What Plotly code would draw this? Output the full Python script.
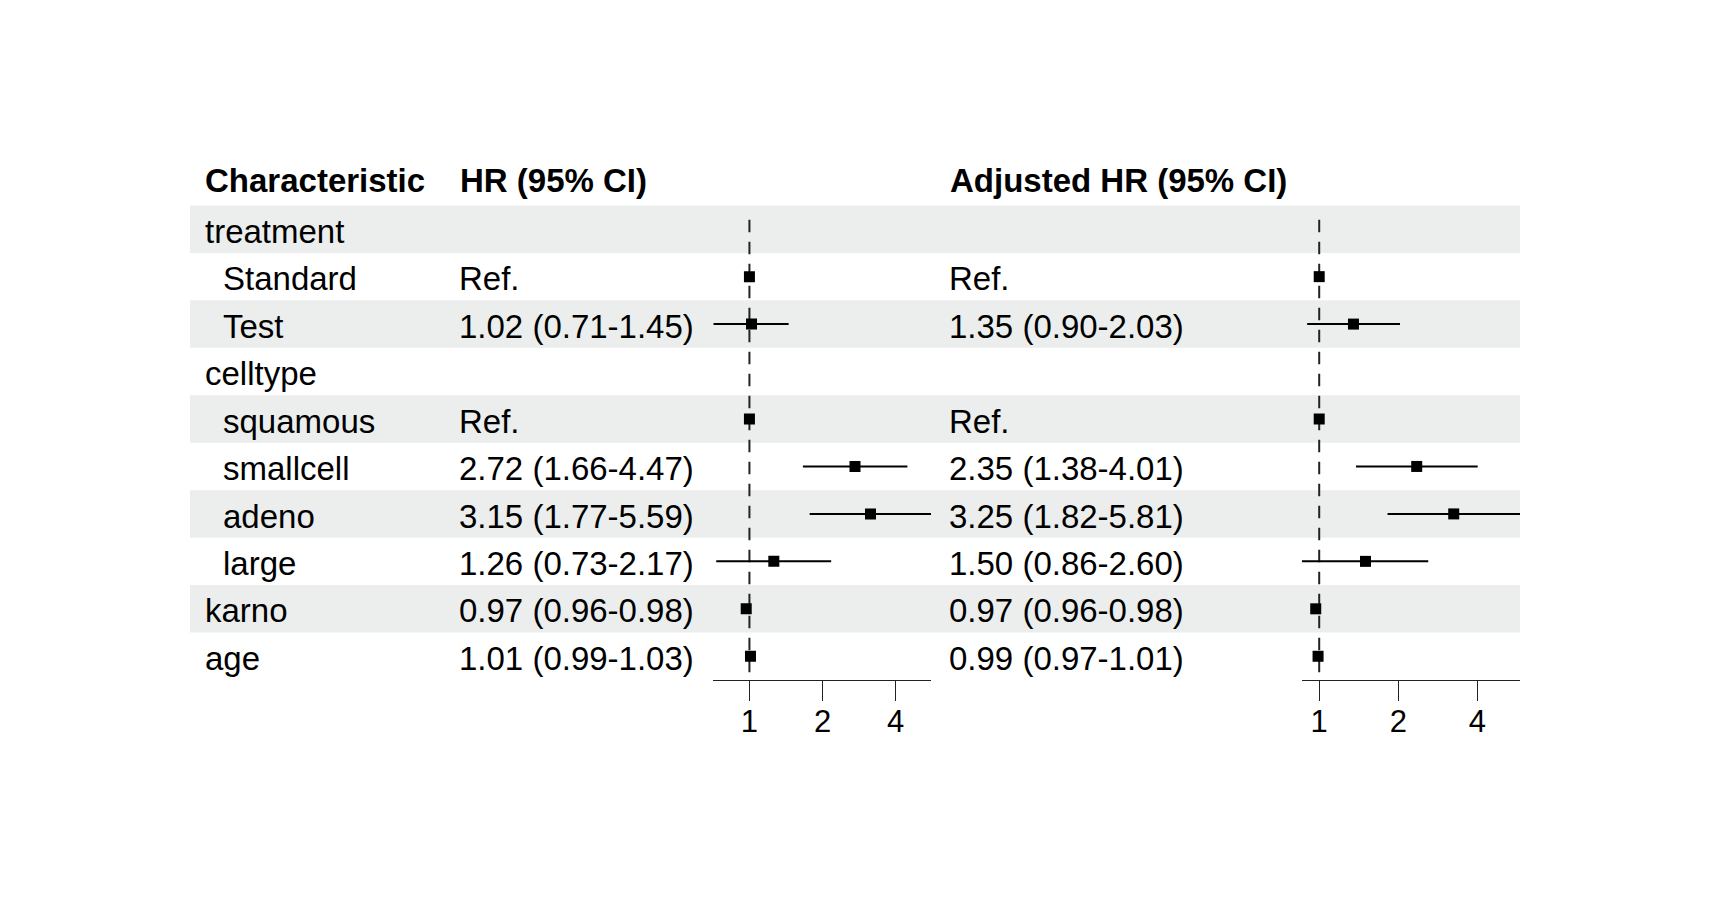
import math
import plotly.graph_objects as go

# table rows
labels = ["treatment", "Standard", "Test", "celltype", "squamous",
          "smallcell", "adeno", "large", "karno", "age"]
indent = [0, 1, 1, 0, 1, 1, 1, 1, 0, 0]

# unadjusted HR
hr = [None, 1, 1.02, None, 1, 2.72, 3.15, 1.26, 0.97, 1.01]
hr_lo = [None, None, 0.71, None, None, 1.66, 1.77, 0.73, 0.96, 0.99]
hr_hi = [None, None, 1.45, None, None, 4.47, 5.59, 2.17, 0.98, 1.03]
hr_text = ["", "Ref.", "1.02 (0.71-1.45)", "", "Ref.", "2.72 (1.66-4.47)",
           "3.15 (1.77-5.59)", "1.26 (0.73-2.17)", "0.97 (0.96-0.98)",
           "1.01 (0.99-1.03)"]

# adjusted HR
adj = [None, 1, 1.35, None, 1, 2.35, 3.25, 1.50, 0.97, 0.99]
adj_lo = [None, None, 0.90, None, None, 1.38, 1.82, 0.86, 0.96, 0.97]
adj_hi = [None, None, 2.03, None, None, 4.01, 5.81, 2.60, 0.98, 1.01]
adj_text = ["", "Ref.", "1.35 (0.90-2.03)", "", "Ref.", "2.35 (1.38-4.01)",
            "3.25 (1.82-5.81)", "1.50 (0.86-2.60)", "0.97 (0.96-0.98)",
            "0.99 (0.97-1.01)"]

headers = ["Characteristic", "HR (95% CI)", "Adjusted HR (95% CI)"]
ticks = [1, 2, 4]

# page body has an 8px margin, so the figure is a bit smaller than the window
OFF = 8
W, H = 1711 - 2 * OFF, 908 - 2 * OFF
FONT = "Liberation Sans, Arial, sans-serif"
BAND = "#ebeeed"
rows = list(range(len(labels)))


def px(v):
    return (v - OFF) / W


def forest(est, lo, hi, xa):
    traces = []
    # reference line at 1
    traces.append(go.Scatter(
        x=[1, 1], y=[-0.2, len(labels) - 0.5], mode="lines",
        line=dict(color="#222222", width=2, dash="12.5px,9.5px"),
        xaxis=xa, yaxis="y", hoverinfo="skip", showlegend=False,
    ))
    cx, cy = [], []
    for i in rows:
        if lo[i] is not None:
            cx += [lo[i], hi[i], None]
            cy += [i, i, None]
    traces.append(go.Scatter(
        x=cx, y=cy, mode="lines", line=dict(color="black", width=2),
        xaxis=xa, yaxis="y", hoverinfo="skip", showlegend=False,
    ))
    pts = [(e, i) for i, e in enumerate(est) if e is not None]
    traces.append(go.Scatter(
        x=[p[0] for p in pts], y=[p[1] for p in pts], mode="markers",
        marker=dict(symbol="square", size=11, color="black", line=dict(width=0)),
        xaxis=xa, yaxis="y", showlegend=False,
    ))
    return traces


fig = go.Figure()
for t in forest(hr, hr_lo, hr_hi, "x"):
    fig.add_trace(t)
for t in forest(adj, adj_lo, adj_hi, "x2"):
    fig.add_trace(t)

# striped row backgrounds
for i in rows:
    if i % 2 == 0:
        fig.add_shape(type="rect", xref="paper", yref="y",
                      x0=px(190), x1=px(1520), y0=i - 0.5, y1=i + 0.5,
                      fillcolor=BAND, line=dict(width=0), layer="below")

# header
for txt, x in zip(headers, [203, 458, 948]):
    fig.add_annotation(x=px(x), y=-1.02, xref="paper", yref="y",
                       text="<b>%s</b>" % txt, showarrow=False,
                       xanchor="left", yanchor="middle",
                       font=dict(family=FONT, size=33, color="black"))

# table columns
for i in rows:
    fig.add_annotation(x=px(203 + 18 * indent[i]), y=i + 0.045, xref="paper", yref="y",
                       text=labels[i], showarrow=False, xanchor="left",
                       yanchor="middle", font=dict(family=FONT, size=33, color="black"))
    for txt, x in [(hr_text[i], 457), (adj_text[i], 947)]:
        if txt:
            fig.add_annotation(x=px(x), y=i + 0.045, xref="paper", yref="y",
                               text=txt, showarrow=False, xanchor="left",
                               yanchor="middle",
                               font=dict(family=FONT, size=33, color="black"))


def xaxis_cfg(lo, hi, x0, x1):
    return dict(
        type="log", domain=[px(x0), px(x1)],
        range=[math.log10(min(v for v in lo if v)), math.log10(max(v for v in hi if v))],
        tickvals=ticks, ticktext=[str(t) for t in ticks],
        ticks="outside", ticklen=20, tickwidth=1.4, tickcolor="#222222",
        ticklabelstandoff=-6,
        showline=True, linecolor="#222222", linewidth=1.4,
        showgrid=False, zeroline=False, anchor="y",
        tickfont=dict(family=FONT, size=31, color="black"),
    )


fig.update_layout(
    width=W, height=H,
    paper_bgcolor="white", plot_bgcolor="rgba(0,0,0,0)",
    margin=dict(l=0, r=0, t=157.5 - OFF, b=H - (680 - OFF), pad=0),
    xaxis=xaxis_cfg(hr_lo, hr_hi, 713.3, 931),
    xaxis2=xaxis_cfg(adj_lo, adj_hi, 1302, 1520),
    yaxis=dict(range=[len(labels) - 0.5, -1.5], visible=False, domain=[0, 1]),
    showlegend=False,
)

fig.write_html("out.html")
